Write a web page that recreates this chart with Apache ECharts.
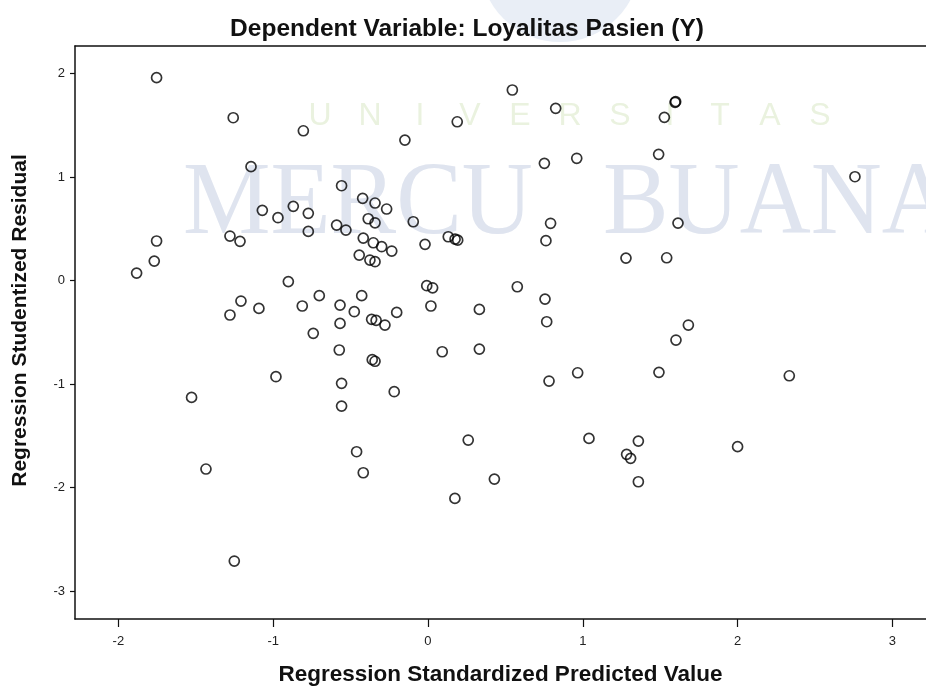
<!DOCTYPE html>
<html>
<head>
    <meta charset="utf-8">
    <title>Scatterplot</title>
    <script src="https://cdn.jsdelivr.net/npm/echarts@6/dist/echarts.min.js"></script>
    <style>
        html, body { margin: 0; padding: 0; background: #fff; }
    </style>
</head>
<body>
    <div id="main" style="width: 926px;height:691px;"></div>

    <script type="text/javascript">
// regression standardized predicted value (x) / studentized residual (y)
var predicted = [
    -1.753, -1.258, -0.805, -1.143, -0.558, -0.422, -0.342, -0.267, -1.070, -0.969,
    -0.870, -0.773, -0.773, -0.590, -0.530, -0.386, -0.342, -0.418, -0.353, -0.299,
    -0.234, -0.444, -0.375, -0.342, -1.753, -1.768, -1.882, -1.279, -1.214, -0.902,
    -1.208, -1.279, -1.092, -0.702, -0.812, -0.568, -0.476, -0.428, -0.364, -0.335,
    -0.278, -0.568, -0.741, -0.573, -0.360, -0.342, -0.982, -0.558, -1.527, -0.558,
    -0.461, -1.434, -0.418, -1.251, 0.545, 0.825, 1.596, 1.600, 1.527, 0.189,
    -0.149, 0.752, 0.961, 1.490, -0.095, -0.019, 0.131, 0.175, 0.192, 0.792,
    0.762, 1.615, 1.279, 1.542, -0.008, 0.030, 0.577, 0.756, 0.767, 0.019,
    0.332, -0.202, 1.602, 0.092, 0.332, 0.782, 0.967, 1.492, -0.218, 0.260,
    1.040, 1.359, 1.283, 1.309, 1.359, 0.429, 0.174, 2.758, 1.682, 2.334,
    2.000
];
var residual = [
    1.960, 1.573, 1.447, 1.100, 0.916, 0.794, 0.749, 0.691, 0.678, 0.607,
    0.717, 0.649, 0.475, 0.536, 0.488, 0.597, 0.558, 0.410, 0.365, 0.327,
    0.285, 0.246, 0.198, 0.182, 0.382, 0.188, 0.072, 0.430, 0.379, -0.010,
    -0.198, -0.333, -0.269, -0.146, -0.246, -0.237, -0.301, -0.146, -0.375, -0.385,
    -0.430, -0.414, -0.510, -0.671, -0.765, -0.780, -0.929, -0.993, -1.129, -1.213,
    -1.654, -1.821, -1.857, -2.710, 1.841, 1.664, 1.722, 1.728, 1.577, 1.534,
    1.357, 1.132, 1.181, 1.219, 0.568, 0.350, 0.423, 0.400, 0.390, 0.553,
    0.385, 0.555, 0.217, 0.220, -0.050, -0.070, -0.060, -0.179, -0.398, -0.246,
    -0.279, -0.308, -0.575, -0.688, -0.662, -0.971, -0.891, -0.887, -1.074, -1.541,
    -1.525, -1.551, -1.679, -1.718, -1.944, -1.918, -2.105, 1.003, -0.430, -0.920,
    -1.605
];
var xTicks = [-2, -1, 0, 1, 2, 3];
var yTicks = [-3, -2, -1, 0, 1, 2];

var titleText = 'Dependent Variable: Loyalitas Pasien (Y)';
var xName = 'Regression Standardized Predicted Value';
var yName = 'Regression Studentized Residual';

// background watermark
var wmLetters = ['U', 'N', 'I', 'V', 'E', 'R', 'S', 'I', 'T', 'A', 'S'];

var points = [];
for (var i = 0; i < predicted.length; i++) {
    points.push([predicted[i], residual[i]]);
}

var wmFont = '103px "Liberation Serif", "DejaVu Serif", serif';
var watermark = [
    {
        type: 'circle',
        shape: { cx: 560, cy: -38, r: 80 },
        style: { fill: '#e9eef6' },
        z: -10
    },
    {
        type: 'text',
        x: 183, y: 206,
        scaleX: 0.955,
        style: { text: 'MERCU', font: wmFont, fill: '#dfe4ef', verticalAlign: 'middle' },
        z: -10
    },
    {
        type: 'text',
        x: 603, y: 206,
        scaleX: 0.955,
        style: { text: 'BUANA', font: wmFont, fill: '#dfe4ef', verticalAlign: 'middle' },
        z: -10
    }
];
for (var k = 0; k < wmLetters.length; k++) {
    watermark.push({
        type: 'text',
        x: 320 + k * 50, y: 116,
        style: {
            text: wmLetters[k],
            font: '32px "Liberation Sans", Arial, sans-serif',
            fill: '#eaf2df',
            align: 'center',
            verticalAlign: 'middle'
        },
        z: -10
    });
}

var xMin = -2.28, xMax = 3.217;
var lineStyle = { color: '#111', width: 1.5 };

var chart = echarts.init(document.getElementById('main'));

chart.setOption({
    backgroundColor: '#fff',
    animation: false,
    graphic: watermark,
    title: {
        text: titleText,
        left: 462,
        textAlign: 'center',
        top: 12,
        textStyle: {
            fontFamily: '"Liberation Sans", Arial, sans-serif',
            fontSize: 24.5,
            fontWeight: 'bold',
            color: '#111'
        }
    },
    grid: {
        left: 75,
        right: 0,
        top: 46,
        bottom: 69,
        show: false
    },
    xAxis: [{
        type: 'value',
        min: xMin,
        max: xMax,
        name: xName,
        nameLocation: 'middle',
        nameGap: 44,
        nameTextStyle: {
            fontFamily: '"Liberation Sans", Arial, sans-serif',
            fontSize: 22.5,
            fontWeight: 'bold',
            color: '#111'
        },
        axisLine: { show: true, onZero: false, lineStyle: lineStyle },
        axisTick: { show: true, length: 8, customValues: xTicks, lineStyle: { color: '#111', width: 1.2 } },
        axisLabel: {
            customValues: xTicks,
            margin: 16,
            fontFamily: '"Liberation Sans", Arial, sans-serif',
            fontSize: 13,
            color: '#222'
        },
        splitLine: { show: false }
    }, {
        // top frame line only
        type: 'value',
        position: 'top',
        min: xMin,
        max: xMax,
        axisLine: { show: true, onZero: false, lineStyle: lineStyle },
        axisTick: { show: false },
        axisLabel: { show: false },
        splitLine: { show: false }
    }],
    yAxis: {
        type: 'value',
        min: -3.27,
        max: 2.266,
        name: yName,
        nameLocation: 'middle',
        nameRotate: 90,
        nameGap: 44,
        nameTextStyle: {
            fontFamily: '"Liberation Sans", Arial, sans-serif',
            fontSize: 21,
            fontWeight: 'bold',
            color: '#111',
            padding: [0, 0, 0, 24]
        },
        axisLine: { show: true, onZero: false, lineStyle: lineStyle },
        axisTick: { show: true, length: 5, customValues: yTicks, lineStyle: { color: '#111', width: 1.2 } },
        axisLabel: {
            customValues: yTicks,
            margin: 10,
            fontFamily: '"Liberation Sans", Arial, sans-serif',
            fontSize: 13,
            color: '#222'
        },
        splitLine: { show: false }
    },
    series: [{
        type: 'scatter',
        xAxisIndex: 0,
        data: points,
        symbol: 'circle',
        symbolSize: 10,
        itemStyle: {
            color: 'transparent',
            borderColor: '#000',
            borderWidth: 1.7
        }
    }]
});
    </script>
</body>
</html>
